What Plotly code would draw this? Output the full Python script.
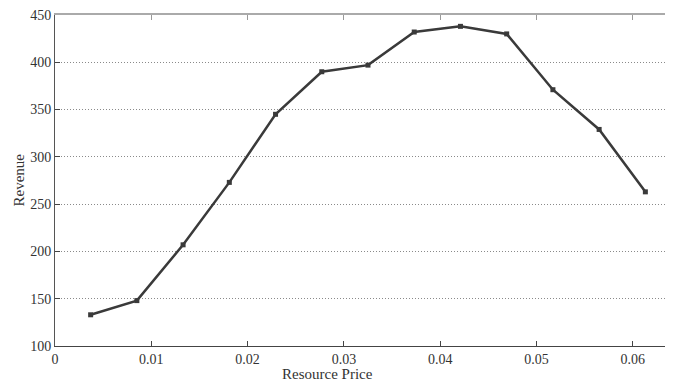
import plotly.graph_objects as go

price = [0.0037, 0.0085, 0.0133, 0.0181, 0.0229, 0.0277, 0.0325,
         0.0373, 0.0421, 0.0469, 0.0517, 0.0565, 0.0613]
revenue = [133, 148, 207, 273, 345, 390, 397, 432, 438, 430, 371, 329, 263]

x_ticks = [0, 0.01, 0.02, 0.03, 0.04, 0.05, 0.06]
x_tick_labels = ["0", "0.01", "0.02", "0.03", "0.04", "0.05", "0.06"]
y_ticks = [100, 150, 200, 250, 300, 350, 400, 450]

serif = "Times New Roman, Liberation Serif, serif"
font = dict(family=serif, size=14, color="#333333")

fig = go.Figure()
fig.add_trace(go.Scatter(
    x=price, y=revenue, mode="lines+markers",
    line=dict(color="#3a3a3a", width=2.5),
    marker=dict(symbol="square", size=5, color="#3a3a3a"),
    showlegend=False,
))
fig.add_trace(go.Scatter(x=[price[0]], y=[revenue[0]], xaxis="x2", yaxis="y",
                         mode="markers", marker=dict(opacity=0), showlegend=False,
                         hoverinfo="skip"))

fig.update_layout(
    width=673, height=381,
    margin=dict(l=47, r=0, t=7, b=43, autoexpand=False),
    paper_bgcolor="white", plot_bgcolor="white",
    font=font,
    xaxis=dict(range=[0, 0.065], tickvals=x_ticks, ticktext=x_tick_labels,
               ticks="inside", ticklen=5, tickcolor="#444", showgrid=False,
               showline=True, linecolor="#444", linewidth=1, zeroline=False,
               automargin=False, ticklabeloverflow="allow"),
    xaxis2=dict(range=[0, 0.065], overlaying="x", side="top", tickvals=x_ticks,
                showticklabels=False, ticks="inside", ticklen=5, tickcolor="#999",
                showline=True, linecolor="#aaaaaa", linewidth=1.5, showgrid=False,
                zeroline=False, automargin=False),
    yaxis=dict(range=[100, 450], tickvals=y_ticks, ticks="inside", ticklen=5,
               tickcolor="#444", showline=True, linecolor="#555", linewidth=1,
               showgrid=True, gridcolor="#8a8a8a", griddash="1px,2px", gridwidth=1,
               zeroline=False, automargin=False, ticklabeloverflow="allow"),
    annotations=[
        dict(text="Resource Price", xref="paper", yref="paper", x=0.435, y=0,
             yshift=-18, xanchor="center", yanchor="top", showarrow=False,
             font=dict(family=serif, size=15, color="#333")),
        dict(text="Revenue", xref="paper", yref="paper", x=0, y=0.5,
             xshift=-37, textangle=-90, xanchor="center", yanchor="middle",
             showarrow=False, font=dict(family=serif, size=15, color="#333")),
    ],
)

fig.write_html("out.html")
